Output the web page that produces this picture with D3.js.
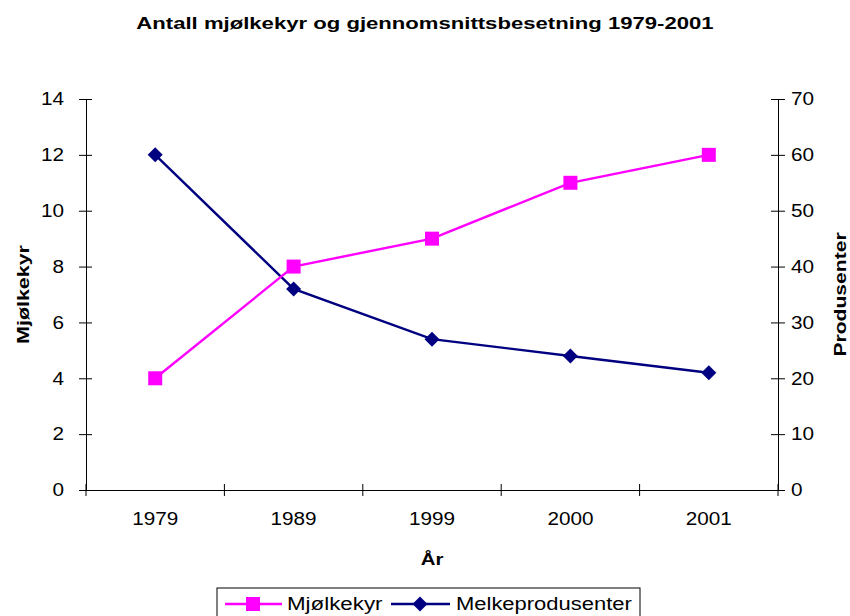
<!DOCTYPE html>
<html>
<head>
<meta charset="utf-8">
<script src="https://cdn.jsdelivr.net/npm/d3@7"></script>
<style>
  body { margin: 0; background: #fff; }
  text { font-family: "Liberation Sans", Arial, sans-serif; fill: #000; }
</style>
</head>
<body>
<div id="chart"></div>
<script>
// Data
const years = ['1979', '1989', '1999', '2000', '2001'];
const mjolkekyr = [4, 8, 9, 11, 12];            // left axis
const melkeprodusenter = [60, 36, 27, 24, 21];  // right axis
const leftTicks = [0, 2, 4, 6, 8, 10, 12, 14];
const rightTicks = [0, 10, 20, 30, 40, 50, 60, 70];

const W = 850, H = 616;
const margin = { top: 99, right: 72, bottom: 126, left: 86 };
const width = W - margin.left - margin.right;
const height = H - margin.top - margin.bottom;

const pink = '#FF00FF';
const navy = '#000080';

// the original text is rendered a bit wider than plain Arial
function stretch(sel, k) {
  sel.each(function() {
    const len = this.getComputedTextLength();
    d3.select(this).attr('textLength', len * k).attr('lengthAdjust', 'spacingAndGlyphs');
  });
}

const svg = d3.select('#chart').append('svg')
  .attr('width', W).attr('height', H);

// Title
svg.append('text')
  .attr('x', 425).attr('y', 29)
  .attr('text-anchor', 'middle')
  .style('font-size', '17px').style('font-weight', 'bold')
  .text('Antall mjølkekyr og gjennomsnittsbesetning 1979-2001')
  .call(stretch, 1.3);

const g = svg.append('g').attr('transform', `translate(${margin.left},${margin.top})`);

// Scales
const x = d3.scaleBand().domain(years).range([0, width]);
const yL = d3.scaleLinear().domain([0, 14]).range([height, 0]);
const yR = d3.scaleLinear().domain([0, 70]).range([height, 0]);

// Left axis (ticks cross the line)
const left = g.append('g').call(d3.axisLeft(yL).tickValues(leftTicks).tickSize(0).tickPadding(22));
left.select('.domain').attr('stroke', '#000');
left.selectAll('.tick text').style('font-size', '18px').call(stretch, 1.15);
left.selectAll('.tick').append('line').attr('x1', -7).attr('x2', 6).attr('stroke', '#000');

// Right axis
const right = g.append('g').attr('transform', `translate(${width},0)`)
  .call(d3.axisRight(yR).tickValues(rightTicks).tickSize(0).tickPadding(13));
right.select('.domain').attr('stroke', '#000');
right.selectAll('.tick text').style('font-size', '18px').call(stretch, 1.15);
right.selectAll('.tick').append('line').attr('x1', -7).attr('x2', 7).attr('stroke', '#000');

// Bottom axis: ticks at category boundaries
const bottom = g.append('g').attr('transform', `translate(0,${height})`)
  .call(d3.axisBottom(x).tickSize(0).tickPadding(22));
bottom.select('.domain').attr('stroke', '#000');
bottom.selectAll('.tick text').style('font-size', '18px').call(stretch, 1.15);
bottom.selectAll('.boundary')
  .data(d3.range(years.length + 1))
  .join('line')
  .attr('x1', i => i * x.bandwidth()).attr('x2', i => i * x.bandwidth())
  .attr('y1', -6).attr('y2', 6)
  .attr('stroke', '#000');

// Axis titles
svg.append('text')
  .attr('transform', `translate(29,${margin.top + height / 2}) rotate(-90)`)
  .attr('text-anchor', 'middle')
  .style('font-size', '17px').style('font-weight', 'bold')
  .text('Mjølkekyr')
  .call(stretch, 1.26);
svg.append('text')
  .attr('transform', `translate(846,${margin.top + height / 2}) rotate(-90)`)
  .attr('text-anchor', 'middle')
  .style('font-size', '17px').style('font-weight', 'bold')
  .text('Produsenter')
  .call(stretch, 1.24);
svg.append('text')
  .attr('x', margin.left + width / 2).attr('y', 565)
  .attr('text-anchor', 'middle')
  .style('font-size', '17px').style('font-weight', 'bold')
  .text('År')
  .call(stretch, 1.2);

const cx = d => x(d) + x.bandwidth() / 2;

// Melkeprodusenter line (right axis)
g.append('path')
  .datum(melkeprodusenter)
  .attr('fill', 'none').attr('stroke', navy).attr('stroke-width', 2.4)
  .attr('d', d3.line().x((d, i) => cx(years[i])).y(d => yR(d)));
g.selectAll('.diamond')
  .data(melkeprodusenter)
  .join('path')
  .attr('transform', (d, i) => `translate(${cx(years[i])},${yR(d)})`)
  .attr('d', 'M0,-7.5L7.5,0L0,7.5L-7.5,0Z')
  .attr('fill', navy);

// Mjølkekyr line (left axis)
g.append('path')
  .datum(mjolkekyr)
  .attr('fill', 'none').attr('stroke', pink).attr('stroke-width', 2.4)
  .attr('d', d3.line().x((d, i) => cx(years[i])).y(d => yL(d)));
g.selectAll('.square')
  .data(mjolkekyr)
  .join('rect')
  .attr('x', (d, i) => cx(years[i]) - 7).attr('y', d => yL(d) - 7)
  .attr('width', 14).attr('height', 14)
  .attr('fill', pink);

// Legend
const lg = svg.append('g').attr('transform', 'translate(217,588)');
lg.append('rect')
  .attr('x', 0).attr('y', 0).attr('width', 423).attr('height', 34)
  .attr('fill', '#fff').attr('stroke', '#000').attr('stroke-width', 1);
lg.append('line').attr('x1', 8).attr('x2', 65).attr('y1', 16).attr('y2', 16)
  .attr('stroke', pink).attr('stroke-width', 2.4);
lg.append('rect').attr('x', 29).attr('y', 9).attr('width', 14).attr('height', 14).attr('fill', pink);
lg.append('text').attr('x', 70).attr('y', 22).style('font-size', '18px').text('Mjølkekyr')
  .call(stretch, 1.24);
lg.append('line').attr('x1', 174).attr('x2', 233).attr('y1', 16).attr('y2', 16)
  .attr('stroke', navy).attr('stroke-width', 2.4);
lg.append('path').attr('transform', 'translate(203,16)')
  .attr('d', 'M0,-7.5L7.5,0L0,7.5L-7.5,0Z').attr('fill', navy);
lg.append('text').attr('x', 239).attr('y', 22).style('font-size', '18px').text('Melkeprodusenter')
  .call(stretch, 1.22);
</script>
</body>
</html>
